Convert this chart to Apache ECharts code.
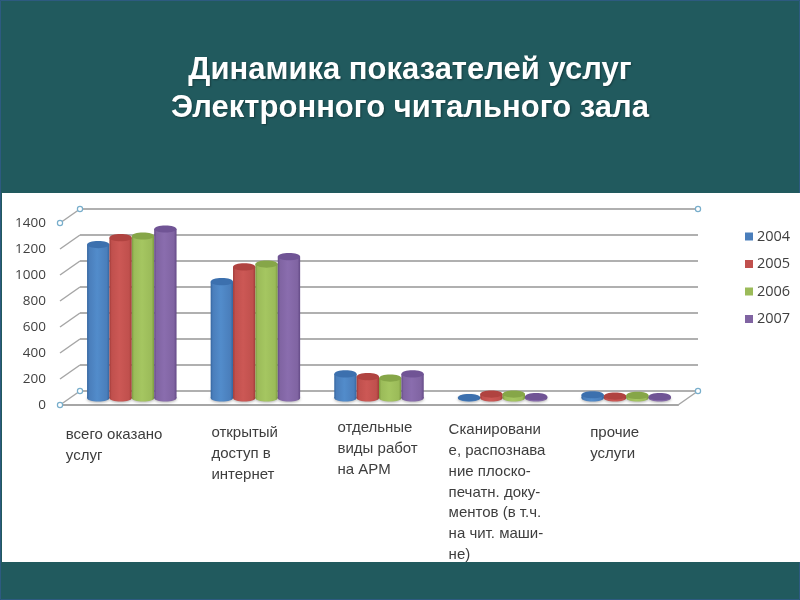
<!DOCTYPE html>
<html><head><meta charset="utf-8">
<style>html,body{margin:0;padding:0;background:#215a5e}#c{width:800px;height:600px}</style>
<script src="https://cdn.jsdelivr.net/npm/echarts@6/dist/echarts.min.js"></script>
</head><body><div id="c"></div>
<script>
var titleLines = ['Динамика показателей услуг', 'Электронного читального зала'];
var categories = ['всего оказано', 'открытый', 'отдельные', 'Сканирование', 'прочие'];
var categoryLabels = [
  'всего оказано\nуслуг',
  'открытый\nдоступ в\nинтернет',
  'отдельные\nвиды работ\nна АРМ',
  'Сканировани\nе, распознава\nние плоско-\nпечатн. доку-\nментов (в т.ч.\nна чит. маши-\nне)',
  'прочие\nуслуги'
];
var years = ['2004', '2005', '2006', '2007'];
var v2004 = [1180, 895, 185, 3, 25];
var v2005 = [1233, 1008, 164, 30, 15];
var v2006 = [1246, 1030, 153, 30, 20];
var v2007 = [1300, 1087, 185, 10, 10];
var yTicks = [0, 200, 400, 600, 800, 1000, 1200, 1400];

var labelShiftX = [-66, -44, -41.5, -54, -36];
var labelY = [425, 423, 418, 420, 423];
var palette = [
  {base:'#4a7ebb', dark:'#34659f', light:'#528ccb', cap:'#3c70ae'},
  {base:'#c0504d', dark:'#a03a38', light:'#cc5855', cap:'#b04340'},
  {base:'#9bbb59', dark:'#7b9a3f', light:'#a5c661', cap:'#86a648'},
  {base:'#8064a2', dark:'#644a86', light:'#8a6dae', cap:'#705495'}
];
var series = [v2004, v2005, v2006, v2007];
var chart = echarts.init(document.getElementById('c'), null, {renderer:'canvas'});

function cylinder(si) {
  return function (params, api) {
    var c = palette[si];
    var idx = api.value(0), val = api.value(1);
    var band = api.size([1, 0])[0];
    var w = band * 0.181;
    var cx = api.coord([idx, 0])[0] + (si - 1.5) * w;
    var yBase = api.coord([idx, 0])[1];
    var yTop = api.coord([idx, val])[1];
    var ry = 3.6;
    var grad = new echarts.graphic.LinearGradient(0, 0, 1, 0, [
      {offset:0, color:c.dark},{offset:0.1, color:c.base},{offset:0.45, color:c.light},
      {offset:0.88, color:c.base},{offset:1, color:c.dark}]);
    return {type:'group', children:[
      {type:'ellipse', shape:{cx:cx, cy:yBase, rx:w/2, ry:ry}, style:{fill:grad, shadowBlur:3, shadowColor:'rgba(0,0,0,0.3)', shadowOffsetY:1}},
      {type:'rect', shape:{x:cx-w/2, y:yTop, width:w, height:Math.max(yBase-yTop,0)}, style:{fill:grad}},
      {type:'ellipse', shape:{cx:cx, cy:yTop, rx:w/2, ry:ry}, style:{fill:c.cap}}
    ]};
  };
}

function wallFrame(params, api) {
  var r = params.coordSys, v = api.value(0);
  var p = api.coord([0, v]);
  var dx = 20, dy = -14, x = r.x;
  var line = {stroke:'#a6a6a6', lineWidth:1.5};
  var kids = [{type:'line', shape:{x1:x, y1:p[1], x2:x+dx, y2:p[1]+dy}, style:line}];
  var handle = {fill:'#fff', stroke:'#78aecb', lineWidth:1.2};
  var isEnd = params.dataIndex === 0 || params.dataIndex === yTicks.length - 1;
  if (params.dataIndex === 0) {
    kids.push({type:'line', shape:{x1:r.x+r.width, y1:p[1], x2:r.x+r.width+dx, y2:p[1]+dy}, style:line});
  }
  if (isEnd) {
    kids.push({type:'circle', shape:{cx:x, cy:p[1], r:2.6}, style:handle});
    kids.push({type:'circle', shape:{cx:x+dx, cy:p[1]+dy, r:2.6}, style:handle});
    kids.push({type:'circle', shape:{cx:r.x+r.width+dx, cy:p[1]+dy, r:2.6}, style:handle});
  }
  return {type:'group', children:kids};
}

function catText(params, api) {
  var i = api.value(0);
  var p = api.coord([i, 0]);
  return {type:'text', style:{x:p[0]+labelShiftX[i], y:labelY[i], text:categoryLabels[i], fill:'#3d3d3d',
    font:'15px "Liberation Sans",sans-serif', lineHeight:20.7, align:'left', verticalAlign:'top'}};
}

var custom = years.map(function (y, si) {
  return {name:y, type:'custom', xAxisIndex:2, yAxisIndex:2, z:5,
    itemStyle:{color:palette[si].base},
    encode:{x:0, y:1},
    renderItem:cylinder(si),
    data:series[si].map(function (v, i) { return [i, v]; })};
});

chart.setOption({
  animation:false,
  backgroundColor:'#215a5e',
  title:{text:titleLines.join('\n'), left:405, top:46, textAlign:'center',
    textStyle:{color:'#fff', fontFamily:'Liberation Sans', fontWeight:'bold', fontSize:31, lineHeight:38.5,
      textShadowColor:'rgba(0,0,0,0.35)', textShadowBlur:2, textShadowOffsetX:1, textShadowOffsetY:1}},
  graphic:[
    {type:'rect', z:-1, silent:true, shape:{x:2, y:193, width:798, height:369}, style:{fill:'#fff'}},
    {type:'rect', z:-2, silent:true, shape:{x:0.5, y:0.5, width:799, height:599}, style:{fill:'none', stroke:'#2d5a80', lineWidth:1}}
  ],
  legend:{data:years, orient:'vertical', left:740, top:224, itemWidth:8, itemHeight:8, itemGap:12.5,
    icon:'rect', textStyle:{color:'#404040', fontFamily:'Open Sans', fontSize:14.5, padding:[0,0,0,-1]}, selectedMode:false},
  grid:[
    {left:80, right:102, top:209, bottom:209},
    {left:60, right:122, top:223, bottom:195},
    {left:70, right:112, top:216, bottom:202}
  ],
  xAxis:[0,1,2].map(function (g) {
    return {type:'category', gridIndex:g, data:categories,
      axisLine:{show:g===1, lineStyle:{color:'#a6a6a6', width:2}}, axisTick:{show:false}, axisLabel:{show:false}};
  }),
  yAxis:[0,1,2].map(function (g) {
    return {type:'value', gridIndex:g, min:0, max:1400, interval:200,
      axisLine:{show:false}, axisTick:{show:false},
      splitLine:{show:g===0, lineStyle:{color:'#b0b0b0', width:2}},
      axisLabel:{show:g===1, color:'#404040', fontFamily:'Open Sans', fontSize:13.5, margin:14,
        formatter:function (v) { return String(v); }}};
  }),
  series:[
    {type:'custom', xAxisIndex:1, yAxisIndex:1, z:3, silent:true, renderItem:wallFrame, encode:{y:0},
      data:yTicks.map(function (t) { return [t]; })},
    {type:'custom', xAxisIndex:2, yAxisIndex:2, z:4, silent:true, renderItem:catText, encode:{x:0},
      data:categories.map(function (c, i) { return [i]; })}
  ].concat(custom)
});
</script></body></html>
